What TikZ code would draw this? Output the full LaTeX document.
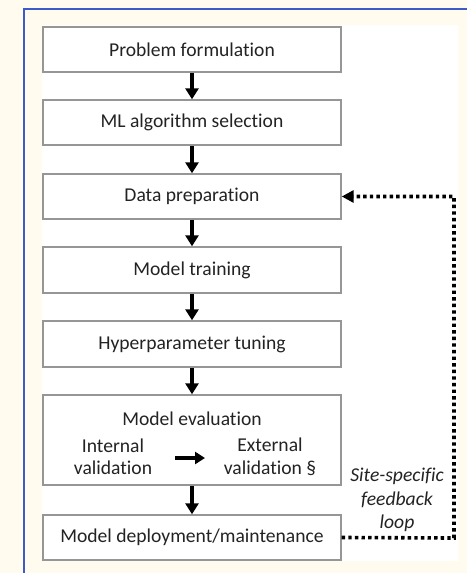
\documentclass[tikz,border=0pt]{standalone}
\usepackage{fontspec}
\setmainfont{Carlito}[Ligatures=NoCommon]
\usetikzlibrary{arrows.meta}
\definecolor{cream}{RGB}{255,251,238}
\definecolor{frameblue}{RGB}{60,90,200}
\definecolor{boxgray}{RGB}{150,150,150}
\definecolor{txt}{RGB}{35,35,35}
\tikzset{
  stepbox/.style={draw=boxgray, line width=1.4pt, fill=white, minimum width=298pt, inner sep=0pt, anchor=center, font=\fontsize{19.6}{23}\selectfont, text=txt},
  lbl/.style={font=\fontsize{19.6}{22.5}\selectfont, text=txt, align=center, inner sep=0pt},
  flow/.style={line width=3.2pt, -{Triangle[width=13pt,length=11pt]}},
  loopline/.style={line width=3.6pt, dash pattern=on 3.4pt off 3.2pt, -{Triangle[width=12pt,length=12pt]}}
}
\begin{document}
\begin{tikzpicture}[x=1pt,y=-1pt]
\useasboundingbox (0,0) rectangle (467,573);
\fill[cream] (0,0) rectangle (467,573);
\fill[white] (42,25) rectangle (458,561);
\draw[frameblue, line width=2pt] (24,573) -- (24,9) -- (467,9);

\node[stepbox, minimum height=45pt] (b1) at (192,49.5) {Problem formulation};
\node[stepbox, minimum height=45pt] (b2) at (192,122.5) {ML algorithm selection};
\node[stepbox, minimum height=45pt] (b3) at (192,196.5) {Data preparation};
\node[stepbox, minimum height=46pt] (b4) at (192,270) {Model training};
\node[stepbox, minimum height=46pt] (b5) at (192,344) {Hyperparameter tuning};
\node[stepbox, minimum height=90pt] (b6) at (192,440) {};
\node[stepbox, minimum height=45pt] (b7) at (192,537.5) {Model deployment/maintenance};

\node[lbl] (eval) at (192,419) {Model evaluation};
\node[lbl] (int) at (113,457) {Internal\\validation};
\node[lbl] (ext) at (270,457) {External\\validation §};
\coordinate (ia) at (175,458);
\coordinate (ib) at (205,458);
\draw[line width=3.2pt, -{Triangle[width=12pt,length=10pt]}] (ia) -- (ib);

\draw[flow] (b1) -- (b2);
\draw[flow] (b2) -- (b3);
\draw[flow] (b3) -- (b4);
\draw[flow] (b4) -- (b5);
\draw[flow] (b5) -- (b6);
\draw[flow] (b6) -- (b7);

\coordinate (lp) at (454,538);
\draw[loopline] (b7.east) -- (lp) |- (b3.east);
\node[lbl, font=\itshape\fontsize{19.6}{23.5}\selectfont] (fb) at (397,500) {Site-specific\\feedback\\loop};
\end{tikzpicture}
\end{document}
